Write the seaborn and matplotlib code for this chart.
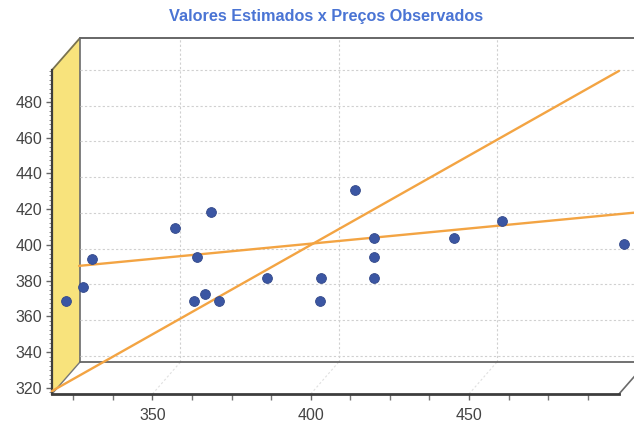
import numpy as np
import pandas as pd
import matplotlib
matplotlib.use("Agg")
import matplotlib.pyplot as plt
import matplotlib.transforms as mtransforms
from matplotlib.patches import Polygon
from matplotlib.lines import Line2D
from matplotlib.ticker import MultipleLocator
import seaborn as sns

# ---------------- data ----------------
estimados = [322.6, 327.9, 331.0, 357.2, 368.4, 364.0, 363.1, 366.6, 371.0, 386.2,
             403.2, 402.8, 413.9, 419.9, 419.9, 419.9, 445.3, 460.4, 499.0]
observados = [368.7, 376.7, 392.2, 409.3, 418.6, 393.5, 368.7, 372.4, 368.7, 381.7,
              381.7, 368.7, 430.8, 404.1, 393.5, 381.7, 404.1, 413.4, 400.6]
ref_x = [318.2, 497.4]          # 45-degree reference line (y = x)
ref_y = [318.2, 497.4]
trend_x = [326.8, 502.4]        # fitted trend line
trend_y = [388.3, 418.1]
y_ticks = [320, 340, 360, 380, 400, 420, 440, 460, 480]
x_ticks = [350, 400, 450]
title = "Valores Estimados x Preços Observados"

df_pts = pd.DataFrame({"est": estimados, "obs": observados})
df_ref = pd.DataFrame({"x": ref_x, "y": ref_y})
df_trend = pd.DataFrame({"x": trend_x, "y": trend_y})

# ---------------- style ----------------
sns.set_theme(style="white")
plt.rcParams["font.family"] = ["Liberation Sans", "DejaVu Sans"]

W, H = 634, 425
fig = plt.figure(figsize=(W / 100, H / 100), dpi=100)
fig.patch.set_facecolor("white")

# front plane axes
ax = fig.add_axes([52 / W, 1 - 394 / H, 567 / W, 324 / H])
ax.set_zorder(5)
ax.patch.set_alpha(0)
ax.set_xlim(318.25, 497.4)
ax.set_ylim(316.6, 497.9)

# 3D offset of the back wall (pixels)
DX, DY = 28, 32
off = mtransforms.ScaledTranslation(DX / 100, DY / 100, fig.dpi_scale_trans)

grid_kw = dict(color="#d0d0d0", lw=0.8, ls=(0, (2, 2)), clip_on=False, zorder=0)
# horizontal grid on back wall
htr = mtransforms.blended_transform_factory(ax.transAxes, ax.transData) + off
for v in y_ticks:
    ax.plot([0, 1.1], [v, v], transform=htr, **grid_kw)
# vertical grid on back wall
vtr = mtransforms.blended_transform_factory(ax.transData, ax.transAxes) + off
for v in x_ticks:
    ax.plot([v, v], [0, 1], transform=vtr, **grid_kw)

# floor diagonal grid lines
fig.canvas.draw()
for v in x_ticks:
    p0 = ax.transData.transform((v, ax.get_ylim()[0]))
    p1 = p0 + np.array([DX, DY])
    fig.add_artist(Line2D([p0[0], p1[0]], [p0[1], p1[1]], transform=mtransforms.IdentityTransform(),
                          color="#e0e0e0", lw=0.8, ls=(0, (2, 2)), zorder=1))

# back wall frame
btr = ax.transAxes + off
ax.plot([0, 1.1], [1, 1], transform=btr, color="#666666", lw=1.4, clip_on=False, zorder=1)
ax.plot([0, 1.1], [0, 0], transform=btr, color="#666666", lw=1.3, clip_on=False, zorder=1)

# yellow left wall
c = ax.transAxes.transform([[0, 0], [0, 1], [1, 0]])
bl, tl, br = c[0], c[1], c[2]
d = np.array([DX, DY])
wall = Polygon([bl, tl, tl + d, bl + d], closed=True, transform=mtransforms.IdentityTransform(),
               facecolor="#f8e37c", edgecolor="none", zorder=1)
fig.add_artist(wall)
fig.add_artist(Line2D([tl[0], tl[0] + DX], [tl[1], tl[1] + DY], transform=mtransforms.IdentityTransform(),
                      color="#7a7350", lw=1.3, zorder=2))
fig.add_artist(Line2D([bl[0] + DX, bl[0] + DX], [bl[1] + DY, tl[1] + DY], transform=mtransforms.IdentityTransform(),
                      color="#6a6a6a", lw=1.2, zorder=2))
fig.add_artist(Line2D([bl[0], bl[0] + DX], [bl[1], bl[1] + DY], transform=mtransforms.IdentityTransform(),
                      color="#777777", lw=1.0, zorder=2))
# right floor edge
fig.add_artist(Line2D([br[0], br[0] + DX], [br[1], br[1] + DY], transform=mtransforms.IdentityTransform(),
                      color="#6a6a6a", lw=1.2, zorder=2))

# ---------------- data marks ----------------
sns.lineplot(data=df_ref, x="x", y="y", ax=ax, color="#f3a443", lw=1.7, clip_on=False, zorder=3)
sns.lineplot(data=df_trend, x="x", y="y", ax=ax, color="#f3a443", lw=1.7, clip_on=False, zorder=3)
sns.scatterplot(data=df_pts, x="est", y="obs", ax=ax, color="#3b56a3", s=50, edgecolor="#34498a",
                linewidth=0.6, clip_on=False, zorder=4)

# ---------------- axes styling ----------------
for s in ["top", "right"]:
    ax.spines[s].set_visible(False)
ax.spines["left"].set_color("#3d3d3d")
ax.spines["left"].set_linewidth(1.6)
ax.spines["bottom"].set_color("#3d3d3d")
ax.spines["bottom"].set_linewidth(2.0)

ax.set_yticks(y_ticks)
ax.set_xticks(x_ticks)
ax.yaxis.set_minor_locator(MultipleLocator(2.5))
ax.xaxis.set_minor_locator(MultipleLocator(12.5))
ax.tick_params(axis="both", which="major", direction="out", length=4, width=1, color="#666666",
               labelsize=11.5, labelcolor="#444444")
ax.tick_params(axis="y", which="major", pad=3)
ax.tick_params(axis="x", which="major", pad=6)
ax.tick_params(axis="y", which="minor", direction="out", length=2, width=0.7, color="#888888")
ax.tick_params(axis="x", which="minor", direction="out", length=4, width=1, color="#777777")
ax.tick_params(left=True, bottom=True, which="both")
ax.set_xlabel("")
ax.set_ylabel("")
ax.grid(False)

fig.text(326.5 / W, 1 - 16 / H, title, ha="center", va="center", color="#4a74d4",
         fontsize=11.7, fontweight="bold")

fig.savefig("out.png", dpi=100)
